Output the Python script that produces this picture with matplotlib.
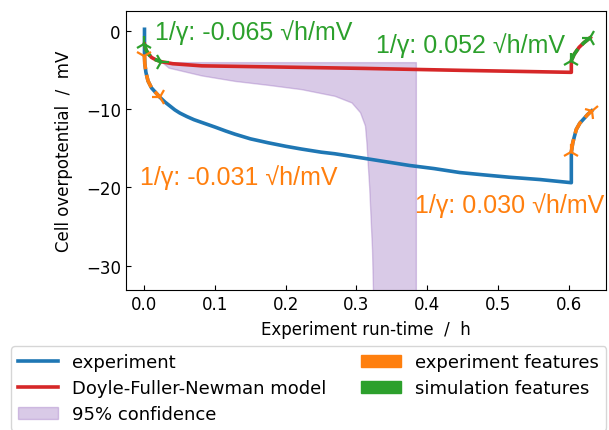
import matplotlib
matplotlib.use("Agg")
import matplotlib.pyplot as plt
from matplotlib.markers import MarkerStyle
from matplotlib.patches import Patch
from matplotlib.lines import Line2D
from matplotlib.transforms import Affine2D

# experiment (h, mV)
t_exp = [0.0, 0.0, 0.0005, 0.002, 0.005, 0.01, 0.016, 0.022, 0.029, 0.036,
         0.043, 0.05, 0.06, 0.07, 0.081, 0.1, 0.115, 0.128, 0.15, 0.175,
         0.2, 0.222, 0.25, 0.269, 0.305, 0.34, 0.375, 0.41, 0.446, 0.48,
         0.516, 0.56, 0.604,
         0.604, 0.606, 0.611, 0.616, 0.621, 0.627, 0.633]
v_exp = [0.2, -3.2, -4.2, -5.3, -6.4, -7.3, -7.9, -8.5, -9.1, -9.6,
         -10.1, -10.5, -10.95, -11.35, -11.7, -12.3, -12.8, -13.2, -13.8, -14.3,
         -14.75, -15.1, -15.5, -15.7, -16.2, -16.7, -17.2, -17.6, -18.1, -18.4,
         -18.7, -19.0, -19.4,
         -15.5, -14.3, -12.6, -11.8, -11.3, -10.7, -10.2]

# Doyle-Fuller-Newman simulation
t_mod = [0.0, 0.002, 0.005, 0.01, 0.016, 0.024, 0.04, 0.081, 0.175, 0.312,
         0.45, 0.604, 0.604, 0.608, 0.615, 0.622, 0.631]
v_mod = [-1.7, -2.4, -2.9, -3.4, -3.7, -3.95, -4.2, -4.47, -4.6, -4.8,
         -5.05, -5.3, -3.8, -3.0, -2.1, -1.5, -0.85]

# 95% confidence band
t_band = [0.026, 0.034, 0.081, 0.128, 0.175, 0.222, 0.269, 0.293, 0.305,
          0.312, 0.314, 0.318, 0.322, 0.325, 0.384]
lo_band = [-4.1, -4.7, -5.7, -6.4, -6.9, -7.45, -8.3, -9.15, -10.4,
           -12.1, -14.2, -20.0, -28.0, -40.0, -40.0]
hi_band = [-4.0, -4.0, -4.0, -4.0, -4.0, -4.0, -4.0, -4.0, -4.0,
           -4.0, -4.0, -4.0, -4.0, -4.0, -4.0]

# feature segments (index ranges into the curves) and their fitted 1/gamma
exp_features = [(1, 8), (33, 40)]
sim_features = [(0, 6), (12, 17)]
exp_labels = ["1/γ: -0.031 √h/mV", "1/γ: 0.030 √h/mV"]
sim_labels = ["1/γ: -0.065 √h/mV", "1/γ: 0.052 √h/mV"]
exp_label_pos = [(-0.006, -19.6), (0.3826, -23.2)]
sim_label_pos = [(0.015, -1.06), (0.328, -2.76)]

# marker (style, rotation) at start / end of each feature
exp_marks = [[("1", 0), ("1", 30)], [("2", 0), ("2", -50)]]
sim_marks = [[("2", 0), ("4", 0)], [("2", 0), ("2", -30)]]

xticks = [0.0, 0.1, 0.2, 0.3, 0.4, 0.5, 0.6]
yticks = [0, -10, -20, -30]

fig = plt.figure(figsize=(6.09, 4.31), dpi=100)
ax = fig.add_axes([0.2064, 0.325, 0.7886, 0.6465])

ax.fill_between(t_band, lo_band, hi_band, color="tab:purple", alpha=0.35,
                lw=1, zorder=1)
ax.plot(t_exp, v_exp, color="tab:blue", lw=2.6, zorder=2)
ax.plot(t_mod, v_mod, color="tab:red", lw=2.6, zorder=2)


def draw_features(t, v, ranges, marks, color):
    for (i0, i1), mk in zip(ranges, marks):
        ax.plot(t[i0:i1], v[i0:i1], color=color, lw=2.6, ls="--", zorder=3)
        for idx, (m, ang) in zip((i0, i1 - 1), mk):
            style = MarkerStyle(m, transform=Affine2D().rotate_deg(ang))
            ax.plot(t[idx], v[idx], marker=style, ms=12, mew=1.6,
                    color=color, ls="none", zorder=4)


draw_features(t_exp, v_exp, exp_features, exp_marks, "tab:orange")
draw_features(t_mod, v_mod, sim_features, sim_marks, "tab:green")

for txt, (x, y) in zip(exp_labels, exp_label_pos):
    ax.text(x, y, txt, color="tab:orange", fontsize=18, family="Liberation Sans",
            ha="left", va="baseline")
for txt, (x, y) in zip(sim_labels, sim_label_pos):
    ax.text(x, y, txt, color="tab:green", fontsize=18, family="Liberation Sans",
            ha="left", va="baseline")

ax.set_xlim(-0.0266, 0.653)
ax.set_ylim(-33.1, 2.5)
ax.set_xticks(xticks)
ax.set_yticks(yticks)
ax.tick_params(direction="in", labelsize=12)
ax.set_xlabel("Experiment run-time  /  h", fontsize=12, labelpad=5)
ax.set_ylabel("Cell overpotential  /  mV", fontsize=12, labelpad=9)

handles = [
    Line2D([], [], color="tab:blue", lw=2.6),
    Line2D([], [], color="tab:red", lw=2.6),
    Patch(facecolor="tab:purple", alpha=0.35, edgecolor="tab:purple"),
    Patch(color="tab:orange"),
    Patch(color="tab:green"),
]
labels = ["experiment", "Doyle-Fuller-Newman model", "95% confidence",
          "experiment features", "simulation features"]
fig.legend(handles, labels, loc="upper left", bbox_to_anchor=(11 / 609, 1 - 347 / 431),
           borderaxespad=0, ncol=2, fontsize=13, handlelength=2.2,
           columnspacing=1.9, labelspacing=0.45)

fig.savefig("out.png", dpi=100)
